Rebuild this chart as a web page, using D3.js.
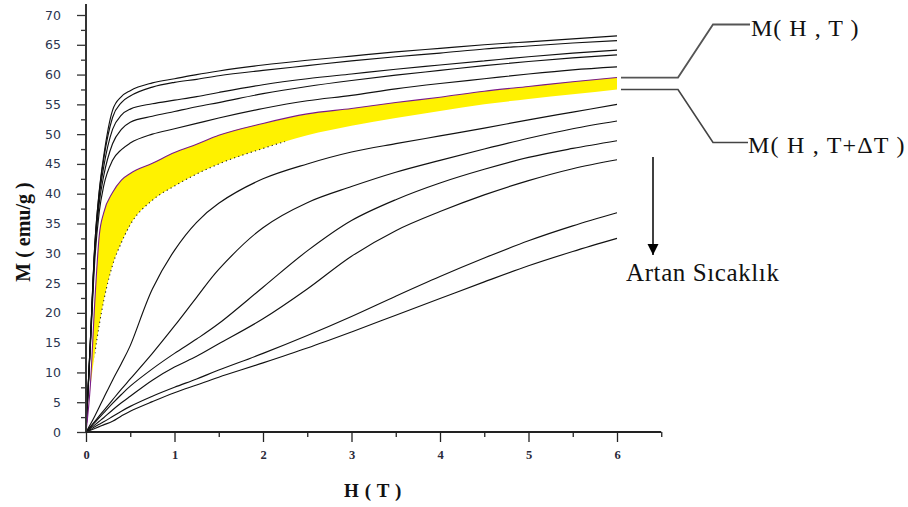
<!DOCTYPE html>
<html><head><meta charset="utf-8">
<script src="https://cdn.jsdelivr.net/npm/d3@7"></script>
<style>body{margin:0;background:#fff} svg{display:block}</style>
</head><body><svg id="c" width="908" height="507"></svg>
<script>
// Field values H (T)
const H = [0, 0.05, 0.1, 0.15, 0.2, 0.3, 0.4, 0.5, 0.75, 1, 1.25, 1.5, 2, 2.5, 3, 3.5, 4, 4.5, 5, 5.5, 6];
// Magnetization curves M (emu/g), lowest temperature first
const mT1  = [0, 15.5, 31.5, 40.5, 46.3, 54.0, 56.3, 57.3, 58.6, 59.3, 60.0, 60.6, 61.6, 62.4, 63.1, 63.8, 64.4, 65.0, 65.5, 66.0, 66.5];
const mT2  = [0, 15.5, 31.5, 40.3, 45.8, 52.8, 55.3, 56.4, 57.9, 58.7, 59.2, 59.8, 60.7, 61.5, 62.3, 63.0, 63.6, 64.3, 64.8, 65.3, 65.7];
const mT3  = [0, 15.3, 31.0, 39.5, 44.5, 50.8, 53.2, 54.2, 55.1, 55.7, 56.3, 57.0, 58.3, 59.3, 60.1, 60.9, 61.6, 62.3, 63.0, 63.6, 64.1];
const mT4  = [0, 15.0, 30.5, 38.5, 43.0, 48.4, 50.8, 52.0, 53.0, 53.8, 54.6, 55.3, 56.8, 58.0, 59.0, 59.9, 60.7, 61.5, 62.2, 62.8, 63.3];
const mT5  = [0, 14.5, 29.0, 37.0, 41.3, 45.6, 47.4, 48.5, 50.0, 50.9, 51.8, 52.7, 54.3, 55.6, 56.5, 57.6, 58.5, 59.3, 60.1, 60.8, 61.3];
// M(H,T) and M(H,T+dT) bounding the highlighted band
const mHT   = [0, 8.0, 22.0, 33.0, 36.8, 40.2, 42.3, 43.4, 45.1, 46.9, 48.3, 49.8, 51.8, 53.4, 54.3, 55.3, 56.2, 57.2, 58.0, 58.8, 59.5];
const mHTdT = [0, 7.5, 13.2, 18.0, 22.0, 28.0, 31.8, 34.8, 38.9, 41.3, 43.3, 45.0, 47.6, 49.8, 51.4, 52.7, 53.9, 55.0, 55.9, 56.7, 57.5];
const mT8  = [0, 1.3, 2.7, 4.2, 5.7, 8.7, 11.5, 14.5, 24.0, 30.5, 35.2, 38.4, 42.5, 45.0, 47.0, 48.4, 49.7, 51.0, 52.4, 53.7, 55.0];
const mT9  = [0, 0.9, 1.8, 2.7, 3.6, 5.4, 7.2, 8.9, 13.2, 17.8, 22.6, 27.3, 34.3, 38.5, 41.2, 43.6, 45.6, 47.5, 49.3, 50.9, 52.2];
const mT10 = [0, 0.8, 1.6, 2.4, 3.2, 4.8, 6.3, 7.7, 10.6, 13.2, 15.6, 18.2, 24.3, 30.4, 35.5, 39.0, 41.8, 44.1, 46.1, 47.6, 48.9];
const mT11 = [0, 0.6, 1.2, 1.8, 2.4, 3.7, 4.9, 6.0, 8.7, 10.9, 12.7, 14.8, 19.0, 24.0, 29.5, 33.8, 37.0, 39.8, 42.2, 44.2, 45.7];
const mT12 = [0, 0.4, 0.9, 1.3, 1.7, 2.6, 3.5, 4.3, 6.0, 7.5, 8.9, 10.4, 13.2, 16.2, 19.4, 22.8, 26.1, 29.2, 32.1, 34.6, 36.8];
const mT13 = [0, 0.3, 0.6, 0.9, 1.2, 1.8, 2.7, 3.5, 5.1, 6.6, 7.9, 9.2, 11.6, 14.1, 16.8, 19.6, 22.4, 25.2, 27.9, 30.3, 32.5];

const upperCurves = [mT1, mT2, mT3, mT4, mT5];
const lowerCurves = [mT8, mT9, mT10, mT11, mT12, mT13];

// Axis ticks
const xMajor = [0, 1, 2, 3, 4, 5, 6];
const xMinor = [0.5, 1.5, 2.5, 3.5, 4.5, 5.5, 6.5];
const yMajor = [0, 5, 10, 15, 20, 25, 30, 35, 40, 45, 50, 55, 60, 65, 70];
const yMinor = [2.5, 7.5, 12.5, 17.5, 22.5, 27.5, 32.5, 37.5, 42.5, 47.5, 52.5, 57.5, 62.5, 67.5];

// Texts
const xTitle = "H ( T )";
const yTitle = "M ( emu/g )";
const labelTop = "M( H , T )";
const labelBottom = "M( H , T+\u0394T )";
const arrowLabel = "Artan Sıcaklık";

const svg = d3.select("#c");
const x = d3.scaleLinear().domain([0, 6.5]).range([86, 661.25]);
const y = d3.scaleLinear().domain([0, 70]).range([432, 15]);

const pts = arr => H.map((h, i) => [h, arr[i]]);
const line = d3.line().x(d => x(d[0])).y(d => y(d[1])).curve(d3.curveMonotoneX);
const smoothLine = d3.line().x(d => x(d[0])).y(d => y(d[1])).curve(d3.curveCatmullRom.alpha(0.5));

// Yellow band
const band = H.map((h, i) => ({h, top: mHT[i], bot: mHTdT[i]}));
svg.append("path").datum(band)
  .attr("d", d3.area().x(d => x(d.h)).y0(d => y(d.bot)).y1(d => y(d.top)).curve(d3.curveMonotoneX))
  .attr("fill", "#fff200");

// dotted lower edge (partially visible)
svg.append("clipPath").attr("id", "dotclip").append("rect")
  .attr("x", x(0.1)).attr("y", 0).attr("width", x(2.25) - x(0.1)).attr("height", 507);
svg.append("path").datum(pts(mHTdT)).attr("d", line)
  .attr("fill", "none").attr("stroke", "#222").attr("stroke-width", 1.1)
  .attr("stroke-dasharray", "1.2,3.2").attr("clip-path", "url(#dotclip)");

// black curves
svg.append("g").selectAll("path").data(upperCurves).join("path")
  .attr("d", d => line(pts(d)))
  .attr("fill", "none").attr("stroke", "#111").attr("stroke-width", 1.15);
svg.append("g").selectAll("path").data(lowerCurves).join("path")
  .attr("d", d => smoothLine(pts(d)))
  .attr("fill", "none").attr("stroke", "#111").attr("stroke-width", 1.15);

// purple M(H,T)
svg.append("path").datum(pts(mHT)).attr("d", line)
  .attr("fill", "none").attr("stroke", "#7a1a8a").attr("stroke-width", 1.1);

// Axes
const gy = svg.append("g").attr("transform", `translate(${x(0)},0)`);
gy.call(d3.axisLeft(y).tickValues(yMajor).tickSize(9).tickPadding(16).tickFormat(d3.format("d")));
gy.append("g").call(d3.axisLeft(y).tickValues(yMinor).tickSize(5).tickFormat(""));
gy.selectAll(".domain").remove();
gy.selectAll("line").attr("stroke", "#333").attr("stroke-width", 1.3);
gy.selectAll("text").attr("font-family", "DejaVu Sans, sans-serif").attr("font-size", 12.5).attr("fill", "#2a3550");
gy.append("line").attr("x1", 0).attr("x2", 0).attr("y1", y(0)).attr("y2", y.range()[1] - 11)
  .attr("stroke", "#333").attr("stroke-width", 2);

const gx = svg.append("g").attr("transform", `translate(0,${y(0)})`);
gx.call(d3.axisBottom(x).tickValues(xMajor).tickSize(10).tickPadding(8).tickFormat(d3.format("d")));
gx.append("g").call(d3.axisBottom(x).tickValues(xMinor).tickSize(5).tickFormat(""));
gx.selectAll(".domain").remove();
gx.selectAll("line").attr("stroke", "#222").attr("stroke-width", 1.3);
gx.selectAll("text").attr("font-family", "Liberation Serif, serif").attr("font-weight", "bold").attr("font-size", 12.5).attr("fill", "#2a2a3a");
gx.append("line").attr("x1", x.range()[0]).attr("x2", x.range()[1]).attr("y1", 0).attr("y2", 0)
  .attr("stroke", "#222").attr("stroke-width", 2.2);

// Axis titles
svg.append("text").text(xTitle).attr("x", 373).attr("y", 497).attr("text-anchor", "middle")
  .attr("font-family", "Liberation Serif, serif").attr("font-weight", "bold").attr("font-size", 19)
  .attr("letter-spacing", 0.6).attr("fill", "#111");
svg.append("text").text(yTitle).attr("transform", "translate(30,232) rotate(-90)").attr("text-anchor", "middle")
  .attr("font-family", "Liberation Serif, serif").attr("font-weight", "bold").attr("font-size", 20).attr("fill", "#111");

// Annotation connectors
const xe = x(6) + 4;
const yTop = y(mHT[mHT.length - 1]);
const yBot = y(mHTdT[mHTdT.length - 1]);
svg.append("path").attr("d", `M${xe},${yTop}H678L713,24.5H750`)
  .attr("fill", "none").attr("stroke", "#555").attr("stroke-width", 1.8);
svg.append("path").attr("d", `M${xe},${yBot}H678L713,142.5H748`)
  .attr("fill", "none").attr("stroke", "#444").attr("stroke-width", 1.6);
svg.append("text").text(labelTop).attr("x", 751).attr("y", 36)
  .attr("font-family", "Liberation Serif, serif").attr("font-size", 24).attr("letter-spacing", 1).attr("fill", "#111");
svg.append("text").text(labelBottom).attr("x", 748).attr("y", 153)
  .attr("font-family", "Liberation Serif, serif").attr("font-size", 24).attr("letter-spacing", 1.2).attr("fill", "#111");

// Arrow
svg.append("defs").append("marker").attr("id", "ah").attr("viewBox", "0 0 10 10")
  .attr("refX", 10).attr("refY", 5).attr("markerWidth", 7.5).attr("markerHeight", 7.5)
  .attr("markerUnits", "strokeWidth").attr("orient", "auto")
  .append("path").attr("d", "M0,0L10,5L0,10Z").attr("fill", "#000");
svg.append("line").attr("x1", 653).attr("x2", 653).attr("y1", 157).attr("y2", 255)
  .attr("stroke", "#000").attr("stroke-width", 1.5).attr("marker-end", "url(#ah)");
svg.append("text").text(arrowLabel).attr("x", 626).attr("y", 281)
  .attr("font-family", "Liberation Serif, serif").attr("font-size", 25).attr("letter-spacing", 0.6).attr("fill", "#111");
</script></body></html>
